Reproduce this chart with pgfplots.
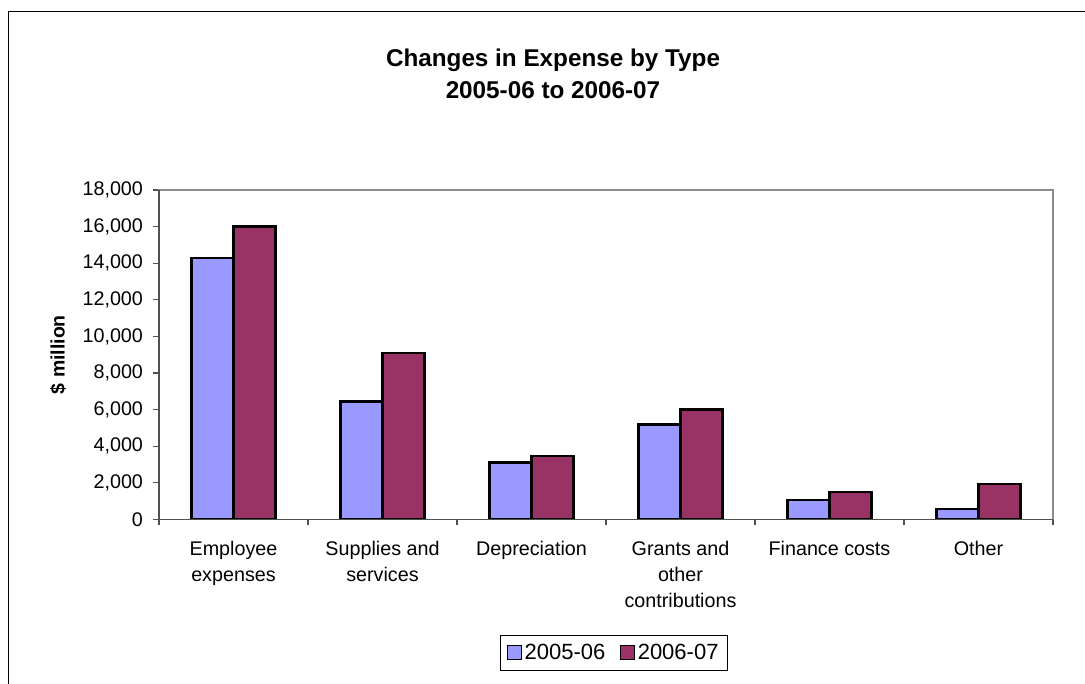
\documentclass[border=0pt]{standalone}
\usepackage{fontspec}
\setmainfont{Liberation Sans}
\usepackage{pgfplots}
\pgfplotsset{compat=1.18}
\definecolor{bluebar}{HTML}{9999FF}
\definecolor{purplebar}{HTML}{993366}
\definecolor{axgray}{HTML}{8C8C8C}
\definecolor{axdark}{HTML}{505050}
\begin{document}
\begin{tikzpicture}
\useasboundingbox (0,0) rectangle (813.75pt,-513pt);
\draw[black, line width=0.8pt] (6.2pt,-513pt) -- (6.2pt,-8.8pt) -- (813.75pt,-8.8pt);
\node[align=center, font=\fontsize{18.2}{24}\selectfont\bfseries] at (414.75pt,-55.5pt) {Changes in Expense by Type\\2005-06 to 2006-07};
\node[rotate=90, font=\fontsize{14.6}{17}\selectfont\bfseries] at (43.5pt,-266pt) {\$ million};
\begin{axis}[
  at={(119.25pt,-389.5pt)}, anchor=south west,
  scale only axis, width=670.5pt, height=247pt,
  xmin=-0.5, xmax=5.5, ymin=0, ymax=18000,
  ytick={0,2000,...,18000},
  scaled y ticks=false,
  /pgf/number format/1000 sep={,},
  /pgf/number format/assume math mode=true,
  y tick label style={xshift=-4pt},
  ticklabel style={font=\fontsize{14.8}{19.5}\selectfont},
  xtick={0,...,5},
  xticklabels={{Employee\\expenses},{Supplies and\\services},Depreciation,{Grants and\\other\\contributions},Finance costs,Other},
  x tick label style={align=center, yshift=-8.5pt},
  major x tick style={draw=none},
  minor xtick={-0.5,0.5,...,5.5},
  tick align=outside, xtick pos=bottom, ytick pos=left,
  major tick length=4.5pt, minor tick length=4.5pt,
  tick style={axdark, line width=0.8pt},
  axis line style={axgray, line width=1.2pt},
  ybar=0pt, bar width=31.5pt,
  legend style={at={(0.509,-0.405)}, anchor=center, legend columns=2, draw=black, line width=0.8pt,
    font=\fontsize{16.5}{19}\selectfont, inner xsep=5pt, inner ysep=4.5pt,
    nodes={inner xsep=2pt},
    /tikz/every even column/.append style={column sep=9pt}},
  legend cell align=left,
  after end axis/.code={
    \draw[axdark, line width=1pt] (rel axis cs:0,1) -- (rel axis cs:0,0) -- (rel axis cs:1,0);
  },
]
\addplot[fill=bluebar, draw=black, line width=1.8pt,
  legend image code/.code={\draw[fill=bluebar, draw=black, line width=0.9pt] (0pt,-5.2pt) rectangle (10.4pt,5.2pt);}]
  coordinates {(0,14280) (1,6430) (2,3100) (3,5180) (4,1070) (5,550)};
\addplot[fill=purplebar, draw=black, line width=1.8pt,
  legend image code/.code={\draw[fill=purplebar, draw=black, line width=0.9pt] (0pt,-5.2pt) rectangle (10.4pt,5.2pt);}]
  coordinates {(0,16000) (1,9080) (2,3450) (3,6000) (4,1500) (5,1930)};
\legend{2005-06,2006-07}
\end{axis}
\end{tikzpicture}
\end{document}
